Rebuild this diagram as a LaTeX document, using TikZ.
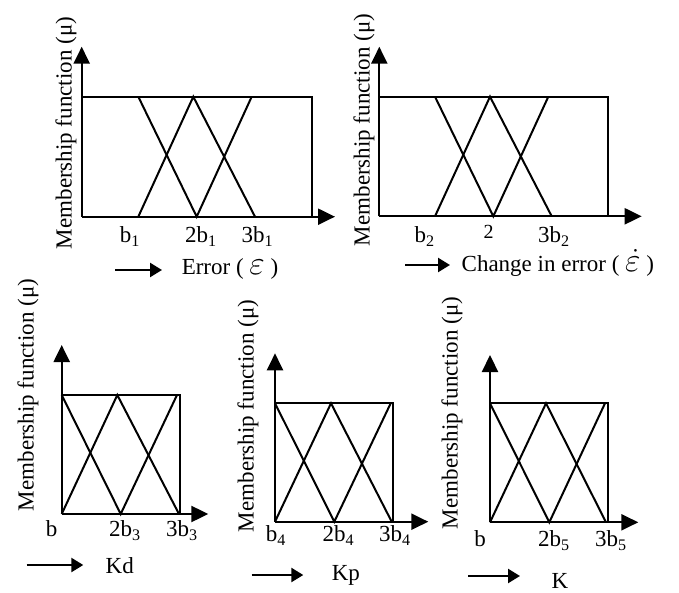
\documentclass[tikz,border=0pt]{standalone}
\usepackage{fontspec}
\setmainfont{Liberation Serif}
\usetikzlibrary{arrows.meta}
\begin{document}
\begin{tikzpicture}[x=1pt,y=-1pt,
  txt/.style={font=\fontsize{23}{27}\selectfont, inner sep=0pt},
  tick/.style={txt, anchor=base},
  ylab/.style={txt, rotate=90, anchor=center},
  frame/.style={line width=2.2pt},
  mf/.style={line width=2pt},
  axis/.style={line width=2.2pt, -{Triangle[width=16pt,length=17pt]}},
  larrow/.style={line width=2.4pt, -{Triangle[width=14pt,length=12pt]}}]
\useasboundingbox (0,0) rectangle (679,593);

% ---------- top left: Error ----------
\coordinate (tlO) at (81.7,216.7);
\coordinate (tlY) at (81.7,46.7);
\coordinate (tlX) at (335,216.7);
\coordinate (tlT) at (81.7,96.7);
\coordinate (tlTR) at (311.7,96.7);
\coordinate (tlBR) at (311.7,216.7);
\draw[axis] (tlO) -- (tlY);
\draw[axis] (tlO) -- (tlX);
\draw[frame] (tlT) -- (tlTR) -- (tlBR);
\draw[mf] (138.3,96.7) -- (196.7,216.7) -- (251.7,96.7);
\draw[mf] (138.3,216.7) -- (193.3,96.7) -- (255,216.7);
\node[ylab] (tlylab) at (66,133) {Membership function (μ)};
\node[tick] (tlb1) at (130,242.7) {b\textsubscript{1}};
\node[tick] (tlb2) at (201,242.7) {2b\textsubscript{1}};
\node[tick] (tlb3) at (257.5,242.7) {3b\textsubscript{1}};
\coordinate (tlA1) at (115,270);
\coordinate (tlA2) at (162,270);
\draw[larrow] (tlA1) -- (tlA2);
\node[tick] (tlxlab) at (230,275) {Error ( \scalebox{1.35}{$\varepsilon$} )};

% ---------- top right: Change in error ----------
\coordinate (trO) at (379.3,216.3);
\coordinate (trY) at (379.3,46.7);
\coordinate (trX) at (641.7,216.3);
\coordinate (trT) at (379.3,96.7);
\coordinate (trTR) at (608.3,96.7);
\coordinate (trBR) at (608.3,216.3);
\draw[axis] (trO) -- (trY);
\draw[axis] (trO) -- (trX);
\draw[frame] (trT) -- (trTR) -- (trBR);
\draw[mf] (435,96.7) -- (493.3,216.3) -- (548.3,96.7);
\draw[mf] (435,216.3) -- (490,96.7) -- (551.7,216.3);
\node[ylab] (trylab) at (364,130) {Membership function (μ)};
\node[tick] (trb1) at (424.7,242.7) {b\textsubscript{2}};
\node[txt, font=\fontsize{20}{23}\selectfont, anchor=base] (trb2) at (488.7,238.3) {2};
\node[tick] (trb3) at (554,242.7) {3b\textsubscript{2}};
\coordinate (trA1) at (405,265);
\coordinate (trA2) at (450,265);
\draw[larrow] (trA1) -- (trA2);
\node[tick] (trxlab) at (557.8,271.7) {Change in error ( \scalebox{1.35}{$\dot{\varepsilon}$} )};

% ---------- bottom left: Kd ----------
\coordinate (blO) at (61.7,514);
\coordinate (blY) at (61.7,345);
\coordinate (blX) at (208.3,514);
\coordinate (blT) at (61.7,395);
\coordinate (blTR) at (180,395);
\coordinate (blBR) at (180,514);
\draw[axis] (blO) -- (blY);
\draw[axis] (blO) -- (blX);
\draw[frame] (blT) -- (blTR) -- (blBR);
\draw[mf] (61.7,395) -- (120.7,514) -- (177,395);
\draw[mf] (61.7,514) -- (117.3,395) -- (179,514);
\node[ylab] (blylab) at (28,395) {Membership function (μ)};
\node[tick] (blb1) at (51.7,536.7) {b};
\node[tick] (blb2) at (125,536.7) {2b\textsubscript{3}};
\node[tick] (blb3) at (182,536.7) {3b\textsubscript{3}};
\coordinate (blA1) at (26.7,565);
\coordinate (blA2) at (83.3,565);
\draw[larrow] (blA1) -- (blA2);
\node[tick] (blxlab) at (119.7,573.3) {Kd};

% ---------- bottom middle: Kp ----------
\coordinate (bmO) at (275,521.7);
\coordinate (bmY) at (275,353.3);
\coordinate (bmX) at (428.3,521.7);
\coordinate (bmT) at (275,403.3);
\coordinate (bmTR) at (392.7,403.3);
\coordinate (bmBR) at (392.7,521.7);
\draw[axis] (bmO) -- (bmY);
\draw[axis] (bmO) -- (bmX);
\draw[frame] (bmT) -- (bmTR) -- (bmBR);
\draw[mf] (275,403.3) -- (334.3,521.7) -- (390.7,403.3);
\draw[mf] (275,521.7) -- (331,403.3) -- (391.7,521.7);
\node[ylab] (bmylab) at (248,416) {Membership function (μ)};
\node[tick] (bmb1) at (275.8,541.7) {b\textsubscript{4}};
\node[tick] (bmb2) at (338.3,541.7) {2b\textsubscript{4}};
\node[tick] (bmb3) at (395,541.7) {3b\textsubscript{4}};
\coordinate (bmA1) at (251.7,575);
\coordinate (bmA2) at (303.3,575);
\draw[larrow] (bmA1) -- (bmA2);
\node[tick] (bmxlab) at (345.8,580) {Kp};

% ---------- bottom right: K ----------
\coordinate (brO) at (490,522.3);
\coordinate (brY) at (490,355);
\coordinate (brX) at (638.3,522.3);
\coordinate (brT) at (490,403.3);
\coordinate (brTR) at (607.7,403.3);
\coordinate (brBR) at (607.7,522.3);
\draw[axis] (brO) -- (brY);
\draw[axis] (brO) -- (brX);
\draw[frame] (brT) -- (brTR) -- (brBR);
\draw[mf] (490,403.3) -- (549.3,522.3) -- (605,403.3);
\draw[mf] (490,522.3) -- (546,403.3) -- (606,522.3);
\node[ylab] (brylab) at (452,413) {Membership function (μ)};
\node[tick] (brb1) at (480,546.7) {b};
\node[tick] (brb2) at (554,546.7) {2b\textsubscript{5}};
\node[tick] (brb3) at (610.8,546.7) {3b\textsubscript{5}};
\coordinate (brA1) at (468.3,576);
\coordinate (brA2) at (520,576);
\draw[larrow] (brA1) -- (brA2);
\node[tick] (brxlab) at (560,588.3) {K};
\end{tikzpicture}
\end{document}
